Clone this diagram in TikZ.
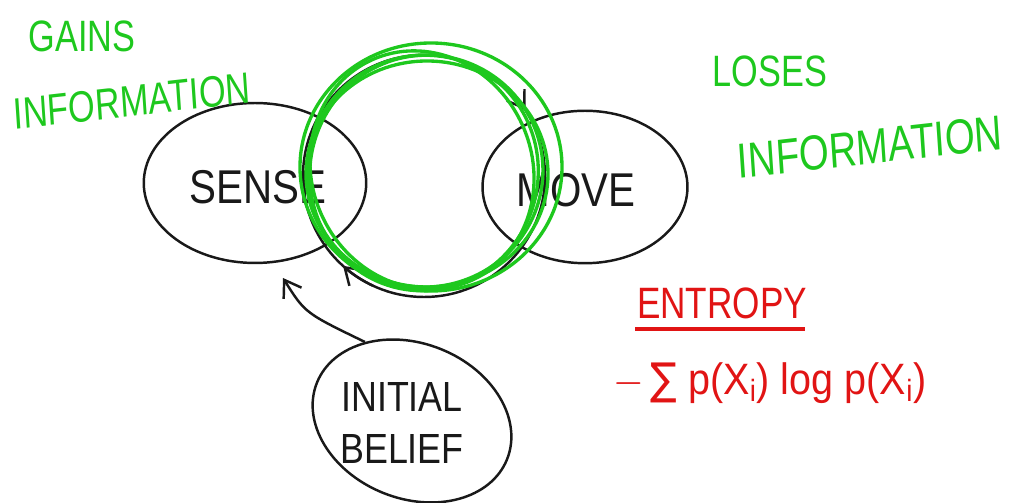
\documentclass[tikz,border=0pt]{standalone}
\usepackage{fontspec}
\setmainfont{Liberation Sans}
\newfontfamily\dejavu{DejaVu Sans}
\usetikzlibrary{shapes.geometric,arrows.meta}
\definecolor{pen}{RGB}{25,25,25}
\definecolor{hgreen}{RGB}{30,200,30}
\definecolor{hred}{RGB}{225,20,20}
\tikzset{
  blob/.style={draw=pen, line width=1.4pt, ellipse, inner sep=0pt},
  bigtxt/.style={font=\fontsize{27}{29}\selectfont, text=pen, xscale=0.85},
  greentxt/.style={font=\fontsize{25}{27}\selectfont, text=hgreen, xscale=0.78},
  redtxt/.style={font=\fontsize{25}{27}\selectfont, text=hred, xscale=0.8},
  cyc/.style={draw=pen, line width=1.4pt},
  gring/.style={draw=hgreen, line width=1.9pt},
  barb/.style={-{Straight Barb[length=9pt,width=12pt,line width=1.4pt]}}
}
\begin{document}
\begin{tikzpicture}[x=0.02cm,y=0.02cm]
\useasboundingbox (0,0) rectangle (1015,503);
% states
\node[blob, minimum width=4.45cm, minimum height=3.2cm] (sense) at (255,320) {};
\node[blob, minimum width=4.1cm, minimum height=3.05cm] (move) at (585,316) {};
\node[blob, minimum width=4.1cm, minimum height=3.1cm, rotate=-22] (belief) at (412,82) {};
\node[bigtxt] (senset) at (258,316) {SENSE};
\node[bigtxt] (movet) at (576,313) {MOVE};
\node[bigtxt, align=center, font=\fontsize{24}{30}\selectfont] (belieft) at (402,80) {INITIAL\\BELIEF};
% cycle
\coordinate (c) at (424,327);
\draw[cyc] (c) circle (121);
\draw[cyc, barb] ([shift={(45:121)}]c) arc[start angle=45, end angle=33, radius=121];
\draw[cyc, barb] ([shift={(245:121)}]c) arc[start angle=245, end angle=228, radius=121];
% green rings
\draw[gring] (431,336) ellipse [x radius=131, y radius=124];
\draw[gring, rotate around={10:(425,332)}] (425,332) ellipse [x radius=118, y radius=116];
\draw[gring, rotate around={-15:(424,330)}] (424,330) ellipse [x radius=114, y radius=118];
\draw[gring] (427,329) ellipse [x radius=121, y radius=113];
\draw[gring, rotate around={25:(422,333)}] (422,333) ellipse [x radius=110, y radius=121];
% initial belief arrow
\draw[cyc, barb] (belief.north west) .. controls (305,190) .. (283,225);
% green labels
\node[greentxt] (gains) at (82,467) {GAINS};
\node[greentxt, rotate=5] (ginfo) at (132,402) {INFORMATION};
\node[greentxt] (loses) at (770,432) {LOSES};
\node[greentxt, rotate=5, font=\fontsize{28}{30}\selectfont] (linfo) at (870,356) {INFORMATION};
% entropy
\node[redtxt] (entropy) at (722,200) {ENTROPY};
\draw[draw=hred, line width=1.8pt] (635,174) -- (805,174);
\node[text=hred, font=\fontsize{25}{27}\selectfont, xscale=0.9] (formula) at (770,120) {$-$\,{\dejavu ∑} p(X\textsubscript{i}) log p(X\textsubscript{i})};
\end{tikzpicture}
\end{document}
